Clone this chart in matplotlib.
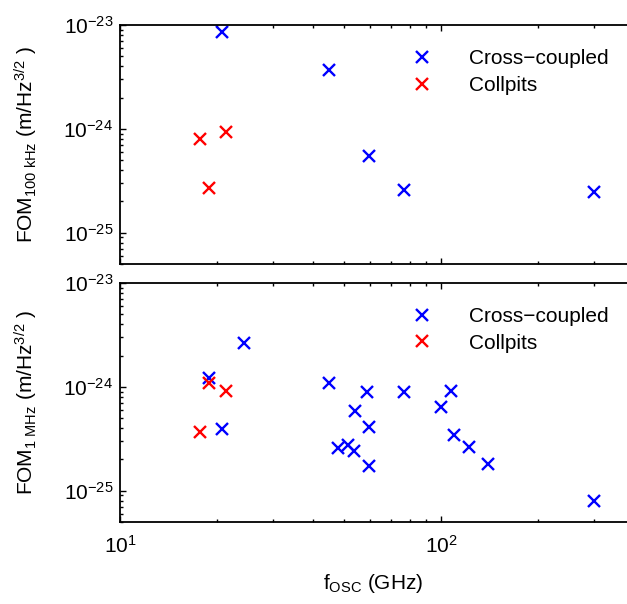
import matplotlib
matplotlib.use('Agg')
import matplotlib.pyplot as plt
from matplotlib.ticker import FixedLocator, LogLocator, LogFormatterMathtext, NullFormatter

plt.rcParams['font.family'] = ['Liberation Sans', 'DejaVu Sans']
plt.rcParams['mathtext.fontset'] = 'custom'
plt.rcParams['mathtext.rm'] = 'Liberation Sans'
plt.rcParams['mathtext.it'] = 'Liberation Sans:italic'
plt.rcParams['mathtext.default'] = 'regular'

# FOM at 100 kHz offset
cc_f_100k = [20.8, 44.8, 59.7, 76.7, 300]
cc_fom_100k = [8.6e-24, 3.7e-24, 5.5e-25, 2.59e-25, 2.48e-25]
cp_f_100k = [17.7, 21.4, 18.9]
cp_fom_100k = [8.0e-25, 9.35e-25, 2.7e-25]

# FOM at 1 MHz offset
cc_f_1m = [24.3, 18.9, 20.8, 44.8, 58.8, 76.7, 107.5, 100, 54, 59.7,
           109.7, 122, 47.8, 51.3, 53.6, 59.7, 140, 300]
cc_fom_1m = [2.63e-24, 1.22e-24, 3.9e-25, 1.09e-24, 8.96e-25, 8.96e-25, 9.2e-25,
             6.45e-25, 5.9e-25, 4.07e-25, 3.41e-25, 2.63e-25, 2.57e-25, 2.74e-25,
             2.4e-25, 1.73e-25, 1.81e-25, 8.0e-26]
cp_f_1m = [18.9, 21.4, 17.7]
cp_fom_1m = [1.09e-24, 9.2e-25, 3.65e-25]

yticks = [1e-25, 1e-24, 1e-23]
xticks = [10, 100]
ylabels = [r'FOM$_{100\ kHz}$ (m/Hz$^{3/2}$ )', r'FOM$_{1\ MHz}$ (m/Hz$^{3/2}$ )']

fig = plt.figure(figsize=(6.27, 6.04), dpi=100)
ax1 = fig.add_axes([0.1914, 0.5629, 0.8086, 0.3957])
ax2 = fig.add_axes([0.1914, 0.1358, 0.8086, 0.3957])

data = [(cc_f_100k, cc_fom_100k, cp_f_100k, cp_fom_100k),
        (cc_f_1m, cc_fom_1m, cp_f_1m, cp_fom_1m)]

fs = 15
for ax, (cf, cv, pf, pv), yl in zip([ax1, ax2], data, ylabels):
    ax.plot(cf, cv, 'x', color='#0000ff', ms=8, mew=1.7, label='Cross\u2212coupled')
    ax.plot(pf, pv, 'x', color='#ff0000', ms=8, mew=1.7, label='Collpits')
    ax.set_xscale('log')
    ax.set_yscale('log')
    ax.set_xlim(10, 380)
    ax.set_ylim(5e-26, 1e-23)
    ax.yaxis.set_major_locator(FixedLocator(yticks))
    ax.yaxis.set_major_formatter(LogFormatterMathtext())
    ax.yaxis.set_minor_locator(LogLocator(base=10, subs=range(2, 10), numticks=10))
    ax.yaxis.set_minor_formatter(NullFormatter())
    ax.xaxis.set_major_locator(FixedLocator(xticks))
    ax.xaxis.set_major_formatter(LogFormatterMathtext())
    ax.xaxis.set_minor_formatter(NullFormatter())
    ax.tick_params(which='both', direction='in', top=True, right=False,
                   labelsize=fs, width=1.0)
    ax.tick_params(which='major', length=4)
    ax.tick_params(which='minor', length=2.5)
    ax.tick_params(axis='y', pad=5)
    ax.tick_params(axis='x', pad=9)
    ax.spines['right'].set_visible(False)
    for s in ['left', 'top', 'bottom']:
        ax.spines[s].set_linewidth(1.3)
    ax.set_ylabel(yl, fontsize=fs)
    ax.yaxis.set_label_coords(-0.157, 0.5)
    ax.legend(loc='upper left', bbox_to_anchor=(0.565, 0.9), frameon=False,
              fontsize=fs, handlelength=1.5, handletextpad=1.5, borderpad=0,
              borderaxespad=0, labelspacing=0.38, numpoints=1)

ax1.tick_params(axis='x', labelbottom=False)
ax2.set_xlabel(r'f$_{OSC}$ (GHz)', fontsize=fs, labelpad=11)

fig.savefig('out.png', dpi=100)
